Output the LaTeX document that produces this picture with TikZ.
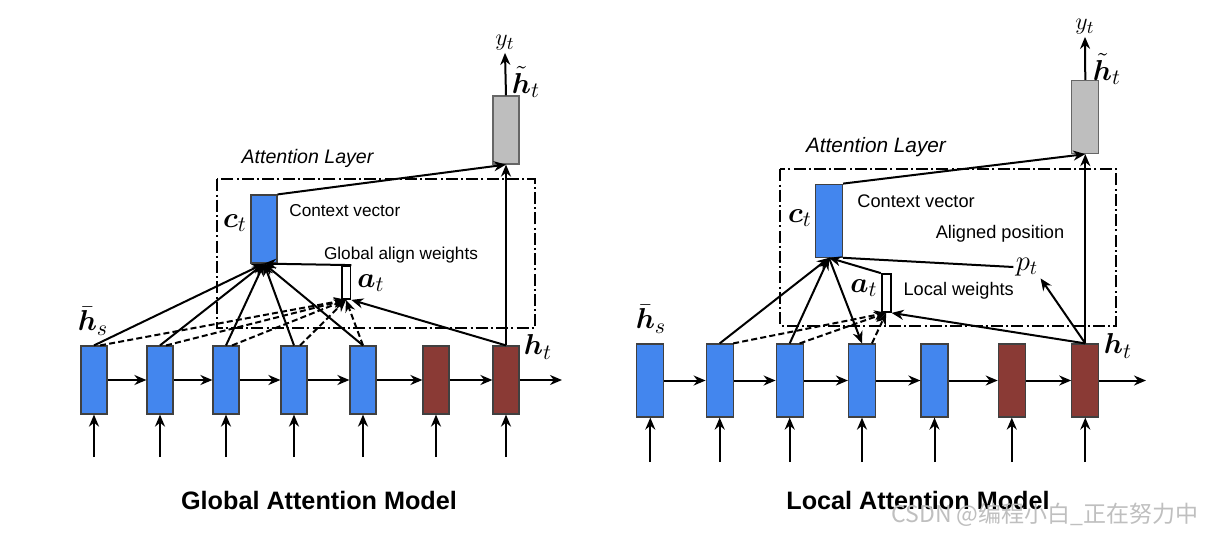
\documentclass[tikz,border=0pt]{standalone}
\usepackage{amsmath}
\usepackage{amssymb}
\usepackage{fontspec}
\newfontfamily\arialfont{Liberation Sans}
\newfontfamily\cjkfont{Noto Sans CJK SC}
\usetikzlibrary{arrows.meta}
\definecolor{encblue}{RGB}{67,134,238}
\definecolor{decred}{RGB}{138,58,53}
\definecolor{outgray}{RGB}{190,190,190}

\begin{document}
\begin{tikzpicture}[x=0.5pt, y=-0.5pt,
  gstate/.style={rectangle, draw=black!75, line width=0.6pt, inner sep=0pt, minimum width=13pt, minimum height=34pt},
  lstate/.style={gstate, minimum width=13.5pt, minimum height=36.5pt},
  wbar/.style={rectangle, draw=black, fill=white, line width=0.9pt, inner sep=0pt},
  flow/.style={line width=1pt, -{Stealth[length=6pt, width=5pt]}},
  dflow/.style={flow, dash pattern=on 3pt off 1.6pt},
  attbox/.style={draw, line width=1pt, dash pattern=on 6pt off 1.6pt on 1pt off 1.6pt},
  gtxt/.style={font=\arialfont\fontsize{8.6}{10}\selectfont, inner sep=0pt},
  ltxt/.style={font=\arialfont\fontsize{9.1}{11}\selectfont, inner sep=0pt},
  mlbl/.style={font=\fontsize{15}{17}\selectfont, inner sep=1pt},
  title/.style={font=\arialfont\bfseries\fontsize{12.6}{15}\selectfont, inner sep=0pt}]
\path[use as bounding box, fill=white] (0,0) rectangle (1207,532);
%global attention model
\node[gstate, fill=encblue] at (94,380) (g1) {};
\node[gstate, fill=encblue] at (160,380) (g2) {};
\node[gstate, fill=encblue] at (226,380) (g3) {};
\node[gstate, fill=encblue] at (294,380) (g4) {};
\node[gstate, fill=encblue] at (363,380) (g5) {};
\node[gstate, fill=decred] at (436,380) (g6) {};
\node[gstate, fill=decred] at (506,380) (g7) {};
\node[gstate, fill=encblue] at (264,229) (gc) {};
\node[gstate, fill=outgray, draw=black!60] at (506,130) (go) {};
\node[wbar, minimum width=4.4pt, minimum height=16.5pt] at (346,282.5) (ga) {};
\draw[attbox] (216.7,179.3) rectangle (535,328.3);
\node[gtxt, font=\arialfont\itshape\fontsize{9.8}{12}\selectfont] at (307.5,158) (gattl) {Attention Layer};
\node[mlbl] at (235,223) (gcl) {$\boldsymbol{c}_t$};
\node[gtxt, anchor=west] at (289,211) (gcv) {Context vector};
\node[gtxt] at (401,255) (gaw) {Global align weights};
\node[mlbl] at (371,283) (gal) {$\boldsymbol{a}_t$};
\node[mlbl] at (93,321) (ghs) {$\bar{\boldsymbol{h}}_s$};
\node[mlbl] at (538,347) (ght) {$\boldsymbol{h}_t$};
\node[mlbl, font=\fontsize{13}{15}\selectfont] at (505,43) (gy) {$y_t$};
\node[mlbl] at (526,82) (gtil) {$\tilde{\boldsymbol{h}}_t$};
\node[title] at (319,500) (gtitle) {Global Attention Model};
\coordinate (gend) at (562,380);
\coordinate (g1in) at (94,457);
\coordinate (g2in) at (160,457);
\coordinate (g3in) at (226,457);
\coordinate (g4in) at (294,457);
\coordinate (g5in) at (363,457);
\coordinate (g6in) at (436,457);
\coordinate (g7in) at (506,457);
\draw[flow] (g1.east) -- (g2.west);
\draw[flow] (g2.east) -- (g3.west);
\draw[flow] (g3.east) -- (g4.west);
\draw[flow] (g4.east) -- (g5.west);
\draw[flow] (g5.east) -- (g6.west);
\draw[flow] (g6.east) -- (g7.west);
\draw[flow] (g7.east) -- (gend);
\draw[flow] (g1in) -- (g1.south);
\draw[flow] (g2in) -- (g2.south);
\draw[flow] (g3in) -- (g3.south);
\draw[flow] (g4in) -- (g4.south);
\draw[flow] (g5in) -- (g5.south);
\draw[flow] (g6in) -- (g6.south);
\draw[flow] (g7in) -- (g7.south);
\draw[flow] (g1.north) -- (gc.south);
\draw[flow] (g2.north) -- (gc.south);
\draw[flow] (g3.north) -- (gc.south);
\draw[flow] (g4.north) -- (gc.south);
\draw[flow] (g5.north) -- (gc.south);
\draw[dflow] (g1.80) -- (ga.south);
\draw[dflow] (g2.80) -- (ga.south);
\draw[dflow] (g3.80) -- (ga.south);
\draw[dflow] (g4.80) -- (ga.south);
\draw[dflow] (g5.north) -- (ga.south);
\draw[flow] (g7.north) -- (ga.south east);
\draw[flow] (ga.north east) -- (gc.south);
\draw[flow] (gc.north east) -- (go.south);
\draw[flow] (g7.north) -- (go.south);
\draw[flow] (go.north) -- (gy.south);
%local attention model
\node[lstate, fill=encblue] at (650.3,380.5) (l1) {};
\node[lstate, fill=encblue] at (719.7,380.5) (l2) {};
\node[lstate, fill=encblue] at (789.7,380.5) (l3) {};
\node[lstate, fill=encblue] at (862,380.5) (l4) {};
\node[lstate, fill=encblue] at (934.5,380.5) (l5) {};
\node[lstate, fill=decred] at (1011.8,380.5) (l6) {};
\node[lstate, fill=decred] at (1085.3,380.5) (l7) {};
\node[lstate, fill=encblue] at (829,220.7) (lc) {};
\node[lstate, fill=outgray, draw=black!60] at (1085.3,117) (lo) {};
\node[wbar, minimum width=4.5pt, minimum height=19pt] at (886.2,293) (la) {};
\draw[attbox] (780,169.3) rectangle (1116,325.5);
\node[ltxt, font=\arialfont\itshape\fontsize{10.4}{12}\selectfont] at (876,147) (lattl) {Attention Layer};
\node[mlbl] at (800,218) (lcl) {$\boldsymbol{c}_t$};
\node[ltxt, anchor=west] at (857,201) (lcv) {Context vector};
\node[ltxt] at (1000,234) (lap) {Aligned position};
\node[mlbl, font=\fontsize{14}{16}\selectfont] at (1027,267) (lpt) {$p_t$};
\node[mlbl] at (864,288) (lal) {$\boldsymbol{a}_t$};
\node[ltxt] at (958.7,290.7) (llw) {Local weights};
\node[mlbl] at (651,319) (lhs) {$\bar{\boldsymbol{h}}_s$};
\node[mlbl] at (1118,346) (lht) {$\boldsymbol{h}_t$};
\node[mlbl, font=\fontsize{13}{15}\selectfont] at (1085,27) (ly) {$y_t$};
\node[mlbl] at (1107,69) (ltil) {$\tilde{\boldsymbol{h}}_t$};
\node[title] at (918,500) (ltitle) {Local Attention Model};
\coordinate (lend) at (1146,380.5);
\coordinate (l1in) at (650.3,462);
\coordinate (l2in) at (719.7,462);
\coordinate (l3in) at (789.7,462);
\coordinate (l4in) at (862,462);
\coordinate (l5in) at (934.5,462);
\coordinate (l6in) at (1011.8,462);
\coordinate (l7in) at (1085.3,462);
\draw[flow] (l1.east) -- (l2.west);
\draw[flow] (l2.east) -- (l3.west);
\draw[flow] (l3.east) -- (l4.west);
\draw[flow] (l4.east) -- (l5.west);
\draw[flow] (l5.east) -- (l6.west);
\draw[flow] (l6.east) -- (l7.west);
\draw[flow] (l7.east) -- (lend);
\draw[flow] (l1in) -- (l1.south);
\draw[flow] (l2in) -- (l2.south);
\draw[flow] (l3in) -- (l3.south);
\draw[flow] (l4in) -- (l4.south);
\draw[flow] (l5in) -- (l5.south);
\draw[flow] (l6in) -- (l6.south);
\draw[flow] (l7in) -- (l7.south);
\draw[flow] (l2.north) -- (lc.south);
\draw[flow] (l3.north) -- (lc.south);
\draw[flow] (lc.south) -- (l4.north);
\draw[dflow] (l2.70) -- (la.south);
\draw[dflow] (l3.75) -- (la.south);
\draw[dflow] (l4.75) -- (la.south);
\draw[flow] (l7.north) -- (la.south east);
\draw[flow] (la.north west) -- (lc.south);
\draw[line width=1pt] (lc.south east) -- (lpt.west);
\draw[flow] (l7.north) -- (lpt.south east);
\draw[flow] (lc.north east) -- (lo.south);
\draw[flow] (l7.north) -- (lo.south);
\draw[flow] (lo.north) -- (ly.south);
\node[font=\cjkfont\fontsize{11.5}{13}\selectfont, text=black!25, inner sep=0pt] at (1045,515) (mark) {CSDN @编程小白\_正在努力中};
\end{tikzpicture}
\end{document}
